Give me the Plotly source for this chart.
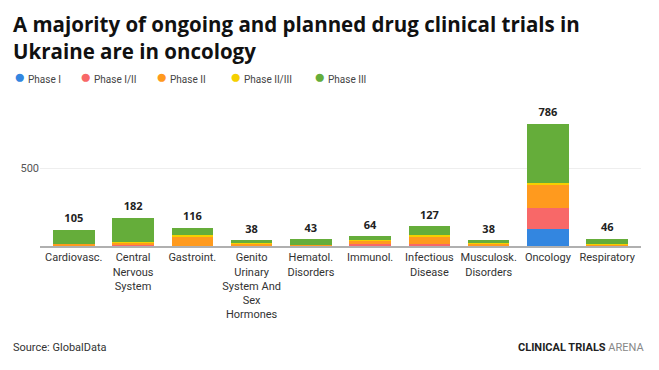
import plotly.graph_objects as go

categories = ["Cardiovasc.", "Central<br>Nervous<br>System", "Gastroint.",
              "Genito<br>Urinary<br>System And<br>Sex<br>Hormones",
              "Hematol.<br>Disorders", "Immunol.", "Infectious<br>Disease",
              "Musculosk.<br>Disorders", "Oncology", "Respiratory"]

phase_names = ["Phase I", "Phase I/II", "Phase II", "Phase II/III", "Phase III"]
phase_colors = ["#3386e0", "#f86868", "#ff9a1e", "#f5d000", "#65ad3a"]

phase1 = [2, 2, 0, 1, 1, 2, 3, 1, 111, 1]
phase1_2 = [3, 3, 2, 2, 1, 12, 8, 3, 133, 2]
phase2 = [10, 20, 56, 14, 3, 20, 47, 12, 146, 8]
phase2_3 = [0, 2, 10, 1, 0, 2, 11, 2, 15, 1]
phase3 = [90, 155, 48, 20, 38, 28, 58, 20, 381, 34]

series = [phase1, phase1_2, phase2, phase2_3, phase3]
totals = [sum(v) for v in zip(*series)]

PL, PR, PT, PB = 40, 641, 110, 245.7


def px_x(x):
    return (x - PL) / (PR - PL)


def px_y(y):
    return (PB - y) / (PB - PT)


fig = go.Figure()
for name, color, vals in zip(phase_names, phase_colors, series):
    fig.add_trace(go.Bar(x=categories, y=vals, name=name, marker_color=color,
                         marker_line_width=0, showlegend=False))

fig.add_trace(go.Scatter(x=categories, y=totals, mode="markers+text",
                         marker=dict(size=6, opacity=0),
                         text=[f"<b>{t}</b>" for t in totals], textposition="top center",
                         textfont=dict(family="Open Sans", size=11, color="#222"),
                         showlegend=False, cliponaxis=False, hoverinfo="skip"))

# legend as annotations
legend_x = [12, 78, 154, 228, 312]
for name, color, lx in zip(phase_names, phase_colors, legend_x):
    fig.add_annotation(xref="paper", yref="paper", x=px_x(lx), y=px_y(77),
                       xanchor="left", yanchor="middle",
                       text=f"<span style='color:{color};font-size:19px'>●</span> {name}",
                       showarrow=False, font=dict(family="Roboto", size=10, color="#444"))

fig.add_annotation(xref="paper", yref="paper", x=px_x(11), y=px_y(8),
                   xanchor="left", yanchor="top", align="left",
                   text="<b>A majority of ongoing and planned drug clinical trials in<br>Ukraine are in oncology</b>",
                   showarrow=False, font=dict(family="Open Sans", size=20.5, color="#111"))

fig.add_annotation(xref="paper", yref="paper", x=px_x(11), y=px_y(347),
                   xanchor="left", yanchor="middle",
                   text="Source: GlobalData", showarrow=False,
                   font=dict(family="Roboto", size=11, color="#333"))
fig.add_annotation(xref="paper", yref="paper", x=px_x(647), y=px_y(347),
                   xanchor="right", yanchor="middle",
                   text="<b>CLINICAL TRIALS</b> <span style='color:#888'>ARENA</span>", showarrow=False,
                   font=dict(family="Roboto", size=11, color="#222"))

fig.update_layout(
    width=659, height=370,
    margin=dict(l=PL, r=659 - PR, t=PT, b=370 - PB),
    paper_bgcolor="white", plot_bgcolor="white",
    barmode="stack", bargap=0.3,
    xaxis=dict(showline=True, linecolor="#b0b0b0", linewidth=2, ticks="", automargin=False,
               tickfont=dict(family="Roboto", size=11, color="#333")),
    yaxis=dict(range=[0, 873], tickvals=[500], showgrid=True, gridcolor="#eeeeee",
               gridwidth=1, zeroline=False, automargin=False,
               tickfont=dict(family="Roboto", size=11, color="#555")),
)

fig.write_html("out.html", config={"displayModeBar": False},
               post_script="document.body.style.margin='0';")
